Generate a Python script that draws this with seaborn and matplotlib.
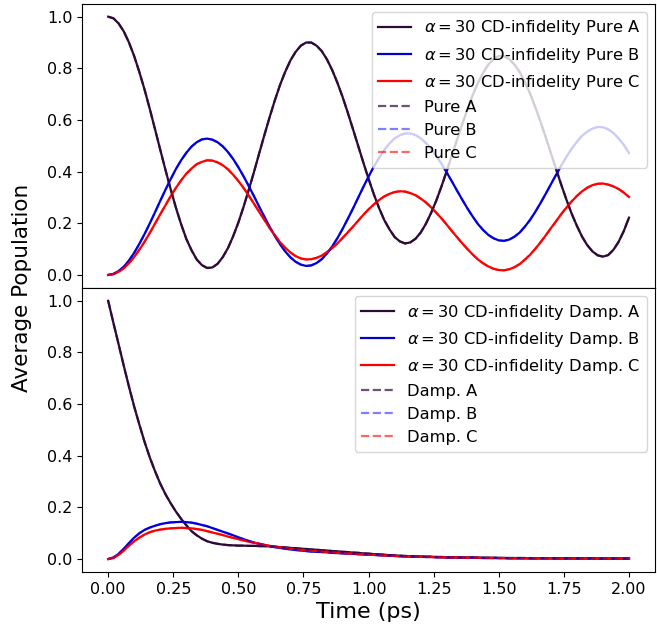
import numpy as np
import matplotlib
matplotlib.use("Agg")
import matplotlib.pyplot as plt
import seaborn as sns

# -------------------- data (every 0.02 ps) --------------------
time_ps = np.round(np.arange(0, 2.0001, 0.02), 2)

pure_a = [1.000, 0.994, 0.974, 0.943, 0.900, 0.847, 0.785, 0.717, 0.642, 0.564,
          0.485, 0.407, 0.332, 0.261, 0.197, 0.140, 0.096, 0.060, 0.038, 0.027,
          0.029, 0.043, 0.069, 0.104, 0.150, 0.203, 0.264, 0.330, 0.399, 0.471,
          0.542, 0.611, 0.676, 0.736, 0.787, 0.831, 0.864, 0.888, 0.900, 0.900,
          0.888, 0.867, 0.835, 0.794, 0.745, 0.690, 0.629, 0.565, 0.500, 0.435,
          0.372, 0.313, 0.260, 0.213, 0.177, 0.147, 0.130, 0.122, 0.126, 0.140,
          0.164, 0.198, 0.240, 0.288, 0.343, 0.402, 0.463, 0.525, 0.585, 0.643,
          0.697, 0.744, 0.783, 0.815, 0.836, 0.848, 0.847, 0.836, 0.815, 0.786,
          0.747, 0.703, 0.650, 0.594, 0.534, 0.472, 0.410, 0.349, 0.291, 0.237,
          0.190, 0.148, 0.115, 0.091, 0.076, 0.071, 0.077, 0.097, 0.128, 0.170,
          0.222]
pure_b = [0.000, 0.004, 0.015, 0.032, 0.056, 0.086, 0.121, 0.159, 0.200, 0.243,
          0.287, 0.330, 0.371, 0.410, 0.444, 0.473, 0.497, 0.514, 0.525, 0.528,
          0.524, 0.514, 0.498, 0.476, 0.449, 0.417, 0.382, 0.344, 0.305, 0.264,
          0.225, 0.186, 0.151, 0.119, 0.091, 0.068, 0.051, 0.040, 0.035, 0.037,
          0.046, 0.061, 0.083, 0.110, 0.142, 0.178, 0.217, 0.257, 0.299, 0.341,
          0.381, 0.419, 0.453, 0.484, 0.509, 0.529, 0.541, 0.548, 0.548, 0.542,
          0.529, 0.511, 0.489, 0.461, 0.430, 0.397, 0.362, 0.326, 0.291, 0.257,
          0.226, 0.197, 0.174, 0.155, 0.142, 0.134, 0.132, 0.137, 0.148, 0.164,
          0.187, 0.213, 0.244, 0.278, 0.314, 0.351, 0.388, 0.424, 0.458, 0.489,
          0.516, 0.539, 0.555, 0.567, 0.573, 0.572, 0.564, 0.550, 0.529, 0.504,
          0.472]
pure_c = [0.000, 0.003, 0.012, 0.026, 0.046, 0.070, 0.098, 0.129, 0.163, 0.199,
          0.235, 0.270, 0.305, 0.337, 0.366, 0.392, 0.412, 0.429, 0.438, 0.444,
          0.443, 0.436, 0.425, 0.409, 0.388, 0.364, 0.337, 0.307, 0.276, 0.244,
          0.213, 0.182, 0.154, 0.127, 0.105, 0.087, 0.073, 0.064, 0.060, 0.061,
          0.066, 0.075, 0.088, 0.104, 0.122, 0.143, 0.165, 0.187, 0.210, 0.233,
          0.254, 0.273, 0.290, 0.304, 0.314, 0.321, 0.324, 0.323, 0.317, 0.309,
          0.296, 0.281, 0.262, 0.241, 0.219, 0.195, 0.170, 0.146, 0.122, 0.100,
          0.079, 0.060, 0.045, 0.033, 0.024, 0.019, 0.018, 0.022, 0.030, 0.042,
          0.059, 0.078, 0.101, 0.126, 0.153, 0.181, 0.208, 0.236, 0.261, 0.285,
          0.306, 0.324, 0.338, 0.348, 0.353, 0.354, 0.350, 0.343, 0.333, 0.319,
          0.302]

damp_a = [1.000, 0.915, 0.832, 0.748, 0.667, 0.590, 0.520, 0.453, 0.393, 0.340,
          0.292, 0.251, 0.216, 0.184, 0.156, 0.131, 0.108, 0.092, 0.079, 0.069,
          0.063, 0.059, 0.056, 0.054, 0.053, 0.052, 0.052, 0.051, 0.051, 0.050,
          0.050, 0.049, 0.048, 0.046, 0.045, 0.043, 0.042, 0.040, 0.039, 0.037,
          0.036, 0.034, 0.033, 0.031, 0.030, 0.028, 0.027, 0.025, 0.024, 0.022,
          0.021, 0.019, 0.018, 0.017, 0.015, 0.014, 0.013, 0.012, 0.011, 0.010,
          0.010, 0.009, 0.009, 0.008, 0.008, 0.007, 0.007, 0.006, 0.006, 0.006,
          0.006, 0.005, 0.005, 0.005, 0.005, 0.004, 0.004, 0.004, 0.004, 0.004,
          0.004, 0.003, 0.003, 0.003, 0.003, 0.003, 0.003, 0.003, 0.003, 0.003,
          0.003, 0.003, 0.003, 0.003, 0.002, 0.002, 0.002, 0.002, 0.002, 0.002,
          0.002]
damp_b = [0.000, 0.006, 0.020, 0.040, 0.062, 0.083, 0.100, 0.113, 0.122, 0.129,
          0.135, 0.139, 0.142, 0.143, 0.144, 0.143, 0.141, 0.137, 0.132, 0.127,
          0.120, 0.113, 0.106, 0.099, 0.092, 0.084, 0.077, 0.070, 0.064, 0.059,
          0.054, 0.050, 0.046, 0.043, 0.040, 0.037, 0.035, 0.033, 0.031, 0.029,
          0.028, 0.027, 0.026, 0.024, 0.023, 0.022, 0.021, 0.020, 0.019, 0.018,
          0.017, 0.016, 0.015, 0.014, 0.013, 0.012, 0.011, 0.010, 0.010, 0.009,
          0.009, 0.008, 0.008, 0.007, 0.007, 0.006, 0.006, 0.006, 0.005, 0.005,
          0.005, 0.005, 0.004, 0.004, 0.004, 0.004, 0.004, 0.003, 0.003, 0.003,
          0.003, 0.003, 0.003, 0.003, 0.003, 0.003, 0.002, 0.002, 0.002, 0.002,
          0.002, 0.002, 0.002, 0.002, 0.002, 0.002, 0.002, 0.002, 0.002, 0.002,
          0.002]
damp_c = [0.000, 0.004, 0.016, 0.033, 0.052, 0.069, 0.083, 0.095, 0.104, 0.110,
          0.114, 0.117, 0.119, 0.120, 0.121, 0.120, 0.119, 0.116, 0.113, 0.108,
          0.103, 0.098, 0.093, 0.087, 0.082, 0.077, 0.072, 0.067, 0.063, 0.059,
          0.055, 0.051, 0.048, 0.045, 0.043, 0.040, 0.038, 0.036, 0.034, 0.032,
          0.031, 0.029, 0.028, 0.026, 0.025, 0.023, 0.022, 0.021, 0.019, 0.018,
          0.017, 0.016, 0.015, 0.014, 0.013, 0.012, 0.011, 0.010, 0.010, 0.009,
          0.009, 0.008, 0.008, 0.007, 0.007, 0.006, 0.006, 0.006, 0.005, 0.005,
          0.005, 0.005, 0.004, 0.004, 0.004, 0.004, 0.004, 0.003, 0.003, 0.003,
          0.003, 0.003, 0.003, 0.003, 0.003, 0.003, 0.002, 0.002, 0.002, 0.002,
          0.002, 0.002, 0.002, 0.002, 0.002, 0.002, 0.002, 0.002, 0.002, 0.002,
          0.002]

x_ticks = [0.0, 0.25, 0.5, 0.75, 1.0, 1.25, 1.5, 1.75, 2.0]
y_ticks = [0.0, 0.2, 0.4, 0.6, 0.8, 1.0]

COL_A = "#2e0a38"
COL_B = "#0000cd"
COL_C = "#ff0000"

# -------------------- figure --------------------
fig, (ax_top, ax_bot) = plt.subplots(2, 1, sharex=True, figsize=(6.57, 6.32), dpi=100)
fig.subplots_adjust(left=0.125, right=0.997, top=0.994, bottom=0.095, hspace=0)

def draw_panel(ax, a, b, c, tag):
    lw = 1.6
    sns.lineplot(x=time_ps, y=a, ax=ax, color=COL_A, linewidth=lw,
                 label=rf"$\alpha = 30$ CD-infidelity {tag} A")
    sns.lineplot(x=time_ps, y=b, ax=ax, color=COL_B, linewidth=lw,
                 label=rf"$\alpha = 30$ CD-infidelity {tag} B")
    sns.lineplot(x=time_ps, y=c, ax=ax, color=COL_C, linewidth=lw,
                 label=rf"$\alpha = 30$ CD-infidelity {tag} C")
    # reference runs drawn dashed on top
    sns.lineplot(x=time_ps, y=a, ax=ax, color=COL_A, linewidth=lw, linestyle="--",
                 alpha=0.7, label=f"{tag} A")
    sns.lineplot(x=time_ps, y=b, ax=ax, color="#0000ff", linewidth=lw, linestyle="--",
                 alpha=0.5, label=f"{tag} B")
    sns.lineplot(x=time_ps, y=c, ax=ax, color=COL_C, linewidth=lw, linestyle="--",
                 alpha=0.6, label=f"{tag} C")
    ax.set_yticks(y_ticks)
    ax.tick_params(labelsize=11.5)
    ax.set_ylabel("")
    ax.legend(loc="upper right", fontsize=11.7)

draw_panel(ax_top, pure_a, pure_b, pure_c, "Pure")
draw_panel(ax_bot, damp_a, damp_b, damp_c, "Damp.")

ax_bot.set_xticks(x_ticks)
ax_bot.set_xticklabels([f"{v:.2f}" for v in x_ticks])
ax_bot.set_xlabel("Time (ps)", fontsize=16)
fig.text(0.034, 0.544, "Average Population", rotation=90, fontsize=15.5,
         ha="center", va="center")

plt.savefig("out.png", dpi=100)
